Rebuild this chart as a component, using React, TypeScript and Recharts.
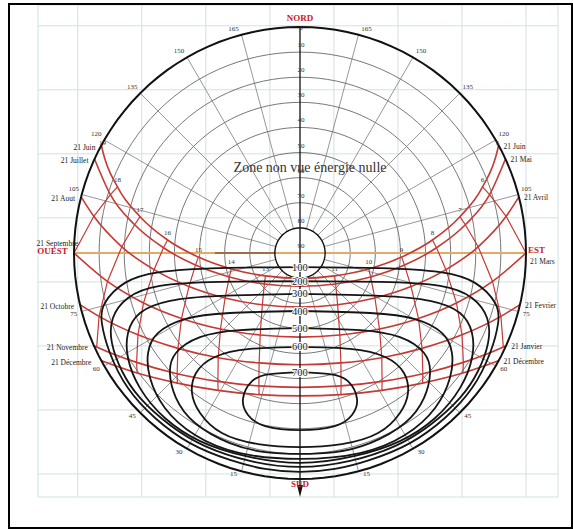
import React from "react";
import { LineChart, Line, XAxis, YAxis, CartesianGrid, ReferenceDot } from "recharts";

// sky diagram: azimuth from south (west > 0), altitude in degrees, equidistant projection
const altitudeCircles = [10, 20, 30, 40, 50, 60, 70];
const altitudeLabels = [0, 10, 20, 30, 40, 50, 60, 70, 80, 90];
const azimuthRays = [15, 30, 45, 60, 75, 90, 105, 120, 135, 150, 165];
const azimuthLabels = [15, 30, 45, 60, 75, 105, 120, 135, 150, 165];
const paperGridX = [-88.5, -63, -37.5, -12, 13.5, 39, 64.5, 90];
const paperGridY = [90.5, 65, 39.5, 14, -11.5, -37, -62.5, -88];

const westDates = ["21 Juin", "21 Juillet", "21 Aout", "21 Septembre", "21 Octobre", "21 Novembre", "21 Décembre"];
const eastDates = ["21 Juin", "21 Mai", "21 Avril", "21 Mars", "21 Fevrier", "21 Janvier", "21 Décembre"];

// afternoon positions [azimuth, altitude] for 12h, 13h, 14h ... ; mornings mirror them
const sunJun = [[0, 79.9], [56.5, 73.5], [76.9, 61.9], [87.7, 49.5], [95.6, 37.0], [102.8, 24.7], [109.9, 12.7], [117.6, 1.2]];
const sunJul = [[0, 76.8], [49.0, 71.2], [71.3, 60.3], [83.4, 48.1], [92.2, 35.6], [99.7, 23.2], [107.1, 11.0]];
const sunAug = [[0, 68.5], [36.0, 64.5], [59.0, 55.2], [73.2, 43.8], [83.5, 31.5], [92.0, 19.0], [100.1, 6.6]];
const sunSep = [[0, 56.5], [25.9, 53.7], [46.3, 46.2], [61.1, 36.1], [72.3, 24.6], [81.6, 12.5], [90.0, 0]];
const sunOct = [[0, 45.5], [20.4, 43.3], [38.0, 37.1], [52.0, 28.3], [63.2, 17.7], [72.5, 6.1]];
const sunNov = [[0, 36.5], [17.2, 34.6], [32.6, 29.3], [45.5, 21.4], [56.2, 11.7], [65.2, 0.8]];
const sunDec = [[0, 33.1], [16.1, 31.3], [30.8, 26.3], [43.3, 18.8], [53.6, 9.4]];
const sunsetAz = [118.5, 114.6, 104.4, null, 76.8, 65.8, 61.5];

// energy isolines, right half [x, y] in projected degrees, top to bottom
const energyLevels = [100, 200, 300, 400, 500, 600, 700];
const iso100 = [[0, -5.6], [31.9, -6.0], [55.8, -7.6], [69.7, -11.9], [77.7, -19.9], [78.9, -27.9], [75.7, -39.8], [68.5, -53.8], [57.7, -65.7], [43.8, -75.7], [27.9, -82.4], [13.9, -86.0], [0, -87.2]];
const iso200 = [[0, -11.2], [31.9, -11.5], [55.8, -13.1], [68.5, -17.9], [74.5, -25.9], [74.9, -35.8], [70.9, -47.0], [63.7, -57.7], [51.8, -68.5], [37.8, -76.9], [19.9, -82.8], [0, -85.2]];
const iso300 = [[0, -16.3], [31.9, -17.1], [51.8, -19.1], [63.7, -23.9], [68.5, -31.9], [68.5, -41.8], [63.7, -53.8], [53.8, -65.7], [39.8, -74.9], [21.9, -80.8], [0, -83.6]];
const iso400 = [[0, -23.1], [27.9, -23.9], [45.8, -26.3], [56.6, -31.9], [60.5, -39.8], [59.7, -49.8], [53.8, -61.7], [41.8, -72.5], [23.9, -79.7], [0, -82.0]];
const iso500 = [[0, -29.9], [23.9, -30.7], [39.8, -33.5], [49.4, -39.8], [51.8, -47.8], [49.4, -57.7], [41.8, -67.7], [27.9, -75.7], [13.9, -79.3], [0, -80.0]];
const iso600 = [[0, -37.4], [19.9, -38.2], [33.9, -41.4], [41.4, -47.8], [43.0, -55.8], [39.8, -63.7], [31.1, -71.7], [16.7, -76.1], [0, -77.3]];
const iso700 = [[0, -47.4], [11.9, -48.2], [19.1, -51.0], [22.7, -58.1], [20.7, -64.5], [13.9, -68.9], [0, -70.5]];

const RED = "#c53a35";
const LABEL_RED = "#cc2027";
const SERIF = "'Liberation Serif', 'DejaVu Serif', serif";

type Pt = { x: number; y: number };

const toXY = (az: number, alt: number): Pt => {
  const zen = 90 - alt;
  const a = (az * Math.PI) / 180;
  return { x: -zen * Math.sin(a), y: -zen * Math.cos(a) };
};

const circle = (alt: number): Pt[] => {
  const pts: Pt[] = [];
  for (let az = -180; az <= 180; az += 3) pts.push(toXY(az, alt));
  return pts;
};

const sunTables = [sunJun, sunJul, sunAug, sunSep, sunOct, sunNov, sunDec];

const dayPath = (tbl: number[][], set: number | null): Pt[] => {
  const pts: Pt[] = [];
  if (set !== null) pts.push(toXY(-set, 0));
  for (let k = tbl.length - 1; k >= 1; k--) pts.push(toXY(-tbl[k][0], tbl[k][1]));
  tbl.forEach(([az, alt]) => pts.push(toXY(az, alt)));
  if (set !== null) pts.push(toXY(set, 0));
  return pts;
};

const hourPath = (k: number, side: number): Pt[] =>
  sunTables.filter((t) => t.length > k).map((t) => toXY(side * t[k][0], t[k][1]));

const loop = (half: number[][]): Pt[] => {
  const right = half.map(([x, y]) => ({ x, y }));
  const left = half.slice(0, -1).reverse().map(([x, y]) => ({ x: -x, y }));
  return [...right, ...left];
};

const isolines = [iso100, iso200, iso300, iso400, iso500, iso600, iso700];

const line = (key: string, data: Pt[], stroke: string, width: number, type: any = "linear") => (
  <Line
    key={key}
    data={data}
    dataKey="y"
    type={type}
    stroke={stroke}
    strokeWidth={width}
    dot={false}
    activeDot={false}
    legendType="none"
    isAnimationActive={false}
  />
);

const label = (key: string, p: Pt, text: string, style: any, dx = 0, dy = 0) => (
  <ReferenceDot
    key={key}
    x={p.x}
    y={p.y}
    r={1}
    ifOverflow="visible"
    shape={(s: any) => (
      <text x={s.cx + dx} y={s.cy + dy} dominantBaseline="central" fontFamily={SERIF} {...style}>
        {text}
      </text>
    )}
  />
);

const small = { fontSize: 7, fill: "#333", textAnchor: "middle" };
const dateStyle = { fontSize: 7.5, fill: "#222" };
const cardinal = { fontSize: 9, fill: LABEL_RED, fontWeight: "bold" };

export default function App() {
  const hourLabels: React.ReactNode[] = [];
  for (let k = 1; k < sunJun.length; k++) {
    const [az, alt] = sunJun[k];
    hourLabels.push(label(`hw${k}`, toXY(az, alt), String(12 + k), small, 0, -7));
    hourLabels.push(label(`he${k}`, toXY(-az, alt), String(12 - k), small, 0, -7));
  }

  return (
    <div style={{ position: "absolute", left: 0, top: 0, width: 573, height: 529, background: "#fff" }}>
      <LineChart
        width={573}
        height={529}
        margin={{ top: 5, right: 15, bottom: 32, left: 38 }}
        style={{ position: "absolute", left: 0, top: 0 }}
      >
        <XAxis dataKey="x" type="number" domain={[-104.34, 102.75]} ticks={paperGridX} allowDataOverflow hide />
        <YAxis dataKey="y" type="number" domain={[-97.17, 98.77]} ticks={paperGridY} allowDataOverflow hide />
        <CartesianGrid stroke="#cfe1e5" strokeWidth={1} />

        {altitudeCircles.map((a) => line(`alt${a}`, circle(a), "#555", 0.8))}
        {azimuthRays.flatMap((az) => [
          line(`rw${az}`, [toXY(az, 80), toXY(az, 0)], "#6a6a6a", 0.7),
          line(`re${az}`, [toXY(-az, 80), toXY(-az, 0)], "#6a6a6a", 0.7),
        ])}

        {line("horizonEW", [toXY(90, 0), toXY(-90, 0)], "#e3a968", 2)}
        {line("horizonDark", [{ x: -33.9, y: 0 }, toXY(90, 80)], "#8a5a3a", 1.4)}

        {sunTables.map((t, i) => line(`day${i}`, dayPath(t, sunsetAz[i]), RED, 1.6, "monotone"))}
        {[1, 2, 3, 4, 5, 6].flatMap((k) => [
          line(`hw${k}`, hourPath(k, 1), RED, 1.2),
          line(`he${k}`, hourPath(k, -1), RED, 1.2),
        ])}

        {isolines.map((iso, i) => line(`iso${i}`, loop(iso), "#151515", 1.8, "natural"))}

        {line("circle80", circle(80), "#111", 1.4)}
        {line("circle0", circle(0), "#111", 2)}
        {line("axis", [toXY(180, 0), { x: 0, y: -95 }], "#111", 1.3)}

        <ReferenceDot
          x={0}
          y={-97.17}
          r={1}
          ifOverflow="visible"
          shape={(s: any) => (
            <polygon points={`${s.cx},${s.cy} ${s.cx - 3},${s.cy - 12} ${s.cx + 3},${s.cy - 12}`} fill="#111" />
          )}
        />

        {altitudeLabels.map((a) =>
          label(`al${a}`, toXY(180, a), String(a), small, 1, a === 0 ? 1 : -7)
        )}
        {azimuthLabels.flatMap((az) => {
          const dy = az > 90 ? -6 : 3;
          return [
            label(`aw${az}`, toXY(az, 0), String(az), small, -8, dy),
            label(`ae${az}`, toXY(-az, 0), String(az), small, 8, dy),
          ];
        })}
        {hourLabels}

        {westDates.map((d, i) => {
          const az = sunsetAz[i] ?? 90;
          if (i === 3) return label(`wd${i}`, toXY(az, 0), d, { ...dateStyle, textAnchor: "end" }, 4, -10);
          return label(`wd${i}`, toXY(az, 0), d, { ...dateStyle, textAnchor: "end" }, i === 6 ? -10 : -6, 2);
        })}
        {eastDates.map((d, i) => {
          const az = sunsetAz[i] ?? 90;
          if (i === 3) return label(`ed${i}`, toXY(-az, 0), d, { ...dateStyle, textAnchor: "start" }, 4, 8);
          return label(`ed${i}`, toXY(-az, 0), d, { ...dateStyle, textAnchor: "start" }, 5, 1);
        })}

        {energyLevels.map((v, i) =>
          label(`el${v}`, { x: 0, y: isolines[i][0][1] }, String(v), {
            fontSize: 10.5,
            fill: "#222",
            textAnchor: "middle",
            stroke: "#fff",
            strokeWidth: 2,
            paintOrder: "stroke",
          })
        )}

        {label("nord", { x: 0, y: 93.6 }, "NORD", { ...cardinal, textAnchor: "middle" })}
        {label("sud", { x: 0, y: -92 }, "SUD", { ...cardinal, textAnchor: "middle" })}
        {label("ouest", { x: -98.6, y: 0.8 }, "OUEST", { ...cardinal, textAnchor: "middle" })}
        {label("est", { x: 94.2, y: 1.2 }, "EST", { ...cardinal, textAnchor: "middle" })}
        {label("zone", { x: 4, y: 34 }, "Zone non vue énergie nulle", { fontSize: 14, fill: "#333", textAnchor: "middle" })}
      </LineChart>
      <div
        style={{
          position: "absolute",
          left: 8,
          top: 3,
          width: 565,
          height: 526,
          border: "2px solid #000",
          boxSizing: "border-box",
          pointerEvents: "none",
        }}
      />
    </div>
  );
}
